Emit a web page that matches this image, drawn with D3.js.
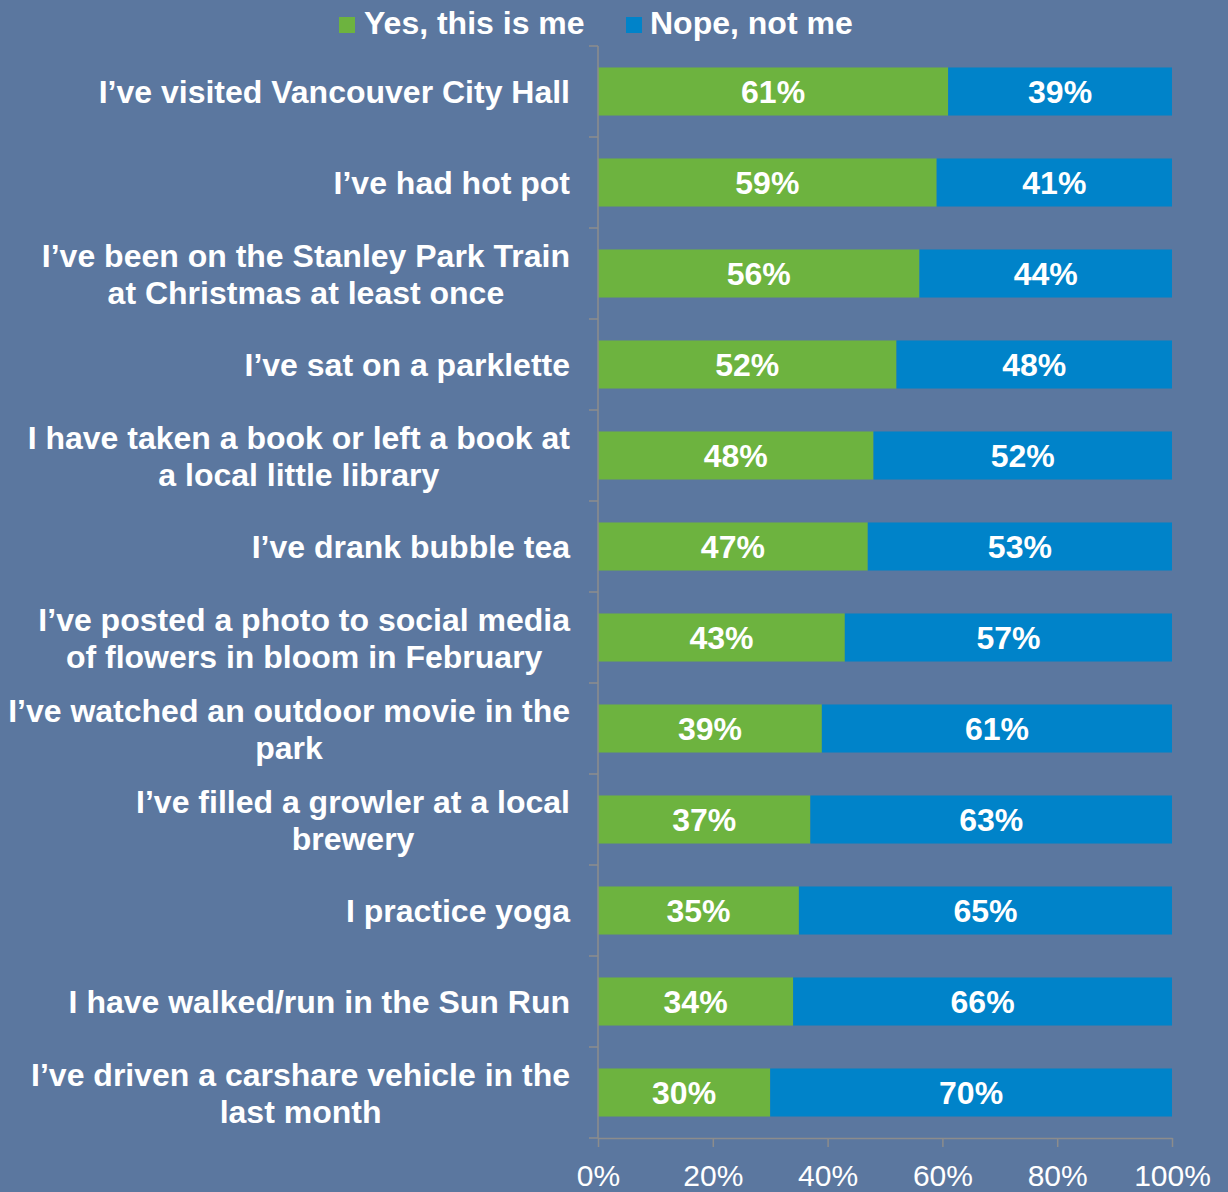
<!DOCTYPE html>
<html><head><meta charset="utf-8">
<script src="https://cdn.jsdelivr.net/npm/d3@7"></script>
<style>
html,body{margin:0;padding:0;background:#5B779F;}
svg{display:block;}
text{font-family:"Liberation Sans",Arial,sans-serif;fill:#fff;}
</style></head>
<body>
<svg id="chart" width="1228" height="1192"></svg>
<script>
const categories = [
  ["I\u2019ve visited Vancouver City Hall"],
  ["I\u2019ve had hot pot"],
  ["I\u2019ve been on the Stanley Park Train", "at Christmas at least once"],
  ["I\u2019ve sat on a parklette"],
  ["I have taken a book or left a book at", "a local little library"],
  ["I\u2019ve drank bubble tea"],
  ["I\u2019ve posted a photo to social media", "of flowers in bloom in February"],
  ["I\u2019ve watched an outdoor movie in the", "park"],
  ["I\u2019ve filled a growler at a local", "brewery"],
  ["I practice yoga"],
  ["I have walked/run in the Sun Run"],
  ["I\u2019ve driven a carshare vehicle in the", "last month"]
];
const yesValues = [61, 59, 56, 52, 48, 47, 43, 39, 37, 35, 34, 30];
const noValues  = [39, 41, 44, 48, 52, 53, 57, 61, 63, 65, 66, 70];
const seriesNames = ["Yes, this is me", "Nope, not me"];
const seriesColors = ["#6DB33F", "#0083C9"];
const xTicks = [0, 20, 40, 60, 80, 100];

(function(){
const FONT = "'Liberation Sans', Arial, sans-serif";
const svg = d3.select("#chart");
const pLeft = 598, pRight = 1172, pTop = 46, pBottom = 1138;
const ids = categories.map((c, i) => i);

const x = d3.scaleLinear().domain([0, 100]).range([pLeft, pRight]);
const y = d3.scaleBand().domain(ids).range([pTop, pBottom]).paddingInner(0.472).paddingOuter(0.236);
const yOuter = d3.scaleBand().domain(ids).range([pTop, pBottom]);

const stacked = ids.map(i => [
  {s: 0, x0: 0, x1: yesValues[i], v: yesValues[i], i},
  {s: 1, x0: yesValues[i], x1: yesValues[i] + noValues[i], v: noValues[i], i}
]).flat();

const g = svg.append("g");
g.selectAll("rect.bar").data(stacked).enter().append("rect")
  .attr("class", "bar")
  .attr("x", d => x(d.x0))
  .attr("width", d => x(d.x1) - x(d.x0))
  .attr("y", d => y(d.i))
  .attr("height", y.bandwidth())
  .attr("fill", d => seriesColors[d.s]);

g.selectAll("text.val").data(stacked).enter().append("text")
  .attr("class", "val")
  .attr("x", d => (x(d.x0) + x(d.x1)) / 2)
  .attr("y", d => y(d.i) + y.bandwidth() / 2)
  .attr("dy", "0.37em")
  .attr("text-anchor", "middle")
  .attr("font-family", FONT)
  .attr("font-weight", "bold")
  .attr("font-size", "32px")
  .text(d => d.v + "%");

const axisColor = "#8C8C8C";
svg.append("line").attr("x1", pLeft).attr("x2", pLeft).attr("y1", pTop).attr("y2", pBottom)
  .attr("stroke", axisColor).attr("stroke-width", 1.5);
const bounds = ids.map(i => yOuter(i)).concat([pBottom]);
svg.selectAll("line.ytick").data(bounds).enter().append("line")
  .attr("class", "ytick")
  .attr("x1", pLeft - 9).attr("x2", pLeft).attr("y1", d => d).attr("y2", d => d)
  .attr("stroke", axisColor).attr("stroke-width", 1.5);

const xAxis = d3.axisBottom(x).tickValues(xTicks).tickFormat(d => d + "%").tickSize(9).tickSizeOuter(0);
const xg = svg.append("g").attr("transform", `translate(0,${pBottom})`).call(xAxis);
xg.attr("font-family", FONT);
xg.select(".domain").attr("stroke", axisColor).attr("stroke-width", 1.5);
xg.selectAll(".tick line").attr("stroke", axisColor).attr("stroke-width", 1.5);
xg.selectAll(".tick text").attr("fill", "#fff").attr("font-size", "30px")
  .attr("font-family", FONT).attr("y", 48).attr("dy", "0");

const labelRight = 570, lineH = 37;
ids.forEach(i => {
  const lines = categories[i];
  const cy = yOuter(i) + yOuter.bandwidth() / 2;
  const grp = svg.append("g");
  const texts = lines.map((ln, k) => grp.append("text")
    .attr("font-family", FONT)
    .attr("font-weight", "bold").attr("font-size", "32px")
    .attr("text-anchor", "middle")
    .attr("y", cy + (k - (lines.length - 1) / 2) * lineH)
    .attr("dy", "0.36em")
    .text(ln));
  const w = d3.max(texts, t => t.node().getComputedTextLength());
  texts.forEach(t => t.attr("x", labelRight - w / 2));
});

const legendItems = [{x: 339, tx: 364}, {x: 626, tx: 650}];
legendItems.forEach((it, k) => {
  svg.append("rect").attr("x", it.x).attr("y", 17).attr("width", 16).attr("height", 16)
    .attr("fill", seriesColors[k]);
  svg.append("text").attr("x", it.tx).attr("y", 34)
    .attr("font-family", FONT)
    .attr("font-weight", "bold").attr("font-size", "32px").text(seriesNames[k]);
});
})();
</script>
</body></html>
